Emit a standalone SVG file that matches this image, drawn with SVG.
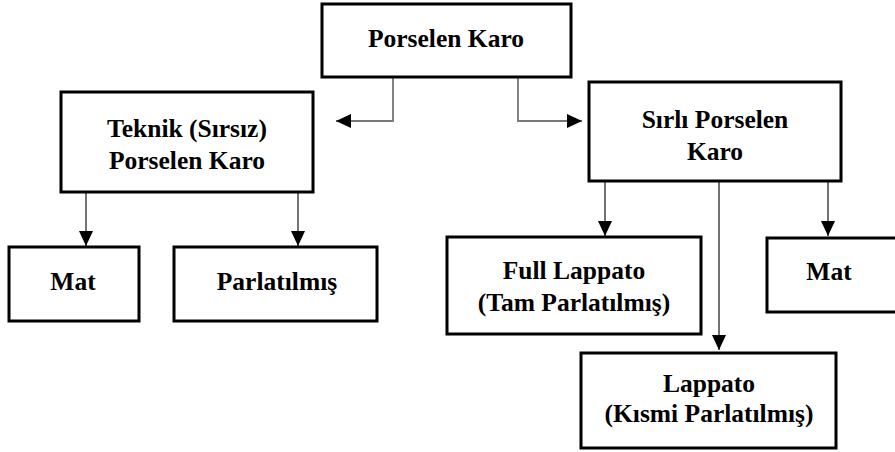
<svg xmlns="http://www.w3.org/2000/svg" width="895" height="452" viewBox="0 0 895 452">
<style>
.box{fill:#fff;stroke:#000;stroke-width:3}
.t{font-family:'Liberation Serif','Times New Roman',serif;font-weight:bold;font-size:25.5px;fill:#000;text-anchor:middle}
.c{fill:none;stroke:#444;stroke-width:1.5}
.g{fill:none;stroke:#777;stroke-width:1.8}
</style>
<defs>
<marker id="ah" markerUnits="userSpaceOnUse" markerWidth="16" markerHeight="14" refX="15" refY="7" orient="auto">
<path d="M0,0 L15,7 L0,14 Z" fill="#000"/>
</marker>
</defs>
<rect width="895" height="452" fill="#fff"/>
<g id="connectors">
<path class="g" d="M393,77 V121 H336" marker-end="url(#ah)"/>
<path class="g" d="M518,77 V121 H582" marker-end="url(#ah)"/>
<path class="c" d="M86,192 V246" marker-end="url(#ah)"/>
<path class="c" d="M298,192 V246" marker-end="url(#ah)"/>
<path class="c" d="M605,181 V236" marker-end="url(#ah)"/>
<path class="c" d="M719,179 V350" marker-end="url(#ah)"/>
<path class="c" d="M828,181 V236" marker-end="url(#ah)"/>
</g>
<g id="n-porselen">
<rect class="box" x="322" y="4" width="249" height="73"/>
<text class="t" x="446" y="47">Porselen Karo</text>
</g>
<g id="n-teknik">
<rect class="box" x="61" y="92" width="252" height="100"/>
<text class="t" x="187" y="137">Teknik (Sırsız)</text>
<text class="t" x="187" y="169">Porselen Karo</text>
</g>
<g id="n-sirli">
<rect class="box" x="589" y="82" width="252" height="99"/>
<text class="t" x="715" y="128">Sırlı Porselen</text>
<text class="t" x="715" y="160">Karo</text>
</g>
<g id="n-mat-left">
<rect class="box" x="9" y="247" width="130" height="74"/>
<text class="t" x="73" y="290">Mat</text>
</g>
<g id="n-parlatilmis">
<rect class="box" x="174" y="247" width="203" height="74"/>
<text class="t" x="277" y="290">Parlatılmış</text>
</g>
<g id="n-full-lappato">
<rect class="box" x="447" y="237" width="254" height="97"/>
<text class="t" x="574" y="279">Full Lappato</text>
<text class="t" x="574" y="311">(Tam Parlatılmış)</text>
</g>
<g id="n-mat-right">
<rect class="box" x="767" y="238" width="140" height="74"/>
<text class="t" x="829" y="280">Mat</text>
</g>
<g id="n-lappato">
<rect class="box" x="581" y="353" width="255" height="95"/>
<text class="t" x="709" y="392">Lappato</text>
<text class="t" x="709" y="422">(Kısmi Parlatılmış)</text>
</g>
</svg>
